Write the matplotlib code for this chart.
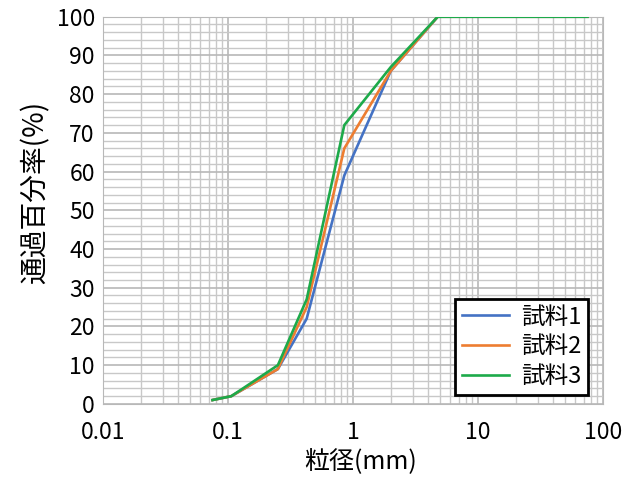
import matplotlib
matplotlib.use("Agg")
import matplotlib.pyplot as plt
from matplotlib.ticker import FixedLocator, LogLocator, NullFormatter

plt.rcParams['font.family'] = ['Noto Sans CJK JP', 'DejaVu Sans']

# ふるい目 (mm) と通過百分率 (%)
sieve = [0.075, 0.106, 0.25, 0.425, 0.85, 2, 4.75, 9.5, 19, 37.5, 75]
sample1 = [1, 2, 9, 22, 59, 86, 100, 100, 100, 100, 100]
sample2 = [1, 2, 9, 25, 66, 86, 100, 100, 100, 100, 100]
sample3 = [1, 2, 10, 27, 72, 87, 100, 100, 100, 100, 100]

names = ["試料1", "試料2", "試料3"]
colors = ["#4472C4", "#ED7D31", "#1DAA4A"]
x_ticks = [0.01, 0.1, 1, 10, 100]
x_labels = ["0.01", "0.1", "1", "10", "100"]
y_ticks = list(range(0, 101, 10))


def main():
    fig = plt.figure(figsize=(6.25, 4.78), dpi=100)
    ax = fig.add_axes([0.165, 0.155, 0.8, 0.81])

    for vals, name, c in zip([sample1, sample2, sample3], names, colors):
        ax.plot(sieve, vals, color=c, linewidth=1.9, label=name, zorder=3)

    ax.set_xscale("log")
    ax.set_xlim(0.01, 100)
    ax.set_ylim(0, 100)

    ax.xaxis.set_major_locator(FixedLocator(x_ticks))
    ax.set_xticklabels(x_labels)
    ax.xaxis.set_minor_locator(LogLocator(base=10, subs=range(2, 10)))
    ax.xaxis.set_minor_formatter(NullFormatter())
    ax.set_yticks(y_ticks)
    ax.yaxis.set_minor_locator(FixedLocator(list(range(0, 101, 2))))

    ax.grid(which="major", color="#b8b8b8", linewidth=1.2)
    ax.grid(which="minor", color="#c8c8c8", linewidth=1.0)
    ax.set_axisbelow(True)
    for sp in ax.spines.values():
        sp.set_color("#b8b8b8")
    ax.tick_params(which="both", length=0, labelsize=16.5)
    ax.tick_params(axis="x", pad=12)
    ax.tick_params(axis="y", pad=6)

    ax.set_xlabel("粒径(mm)", fontsize=18, va="center")
    ax.set_ylabel("通過百分率(%)", fontsize=20, va="center")
    ax.xaxis.set_label_coords(0.514, -0.150)
    ax.yaxis.set_label_coords(-0.136, 0.545)

    leg = ax.legend(loc="lower right", bbox_to_anchor=(0.97, 0.023), fontsize=17,
                    frameon=True, fancybox=False, handlelength=2.0,
                    borderpad=0.3, labelspacing=0.28, handletextpad=0.5,
                    borderaxespad=0.0)
    leg.get_frame().set_edgecolor("black")
    leg.get_frame().set_linewidth(2.0)
    leg.get_frame().set_alpha(1)

    fig.savefig("out.png", dpi=100)
    plt.close(fig)


if __name__ == '__main__':
    main()
